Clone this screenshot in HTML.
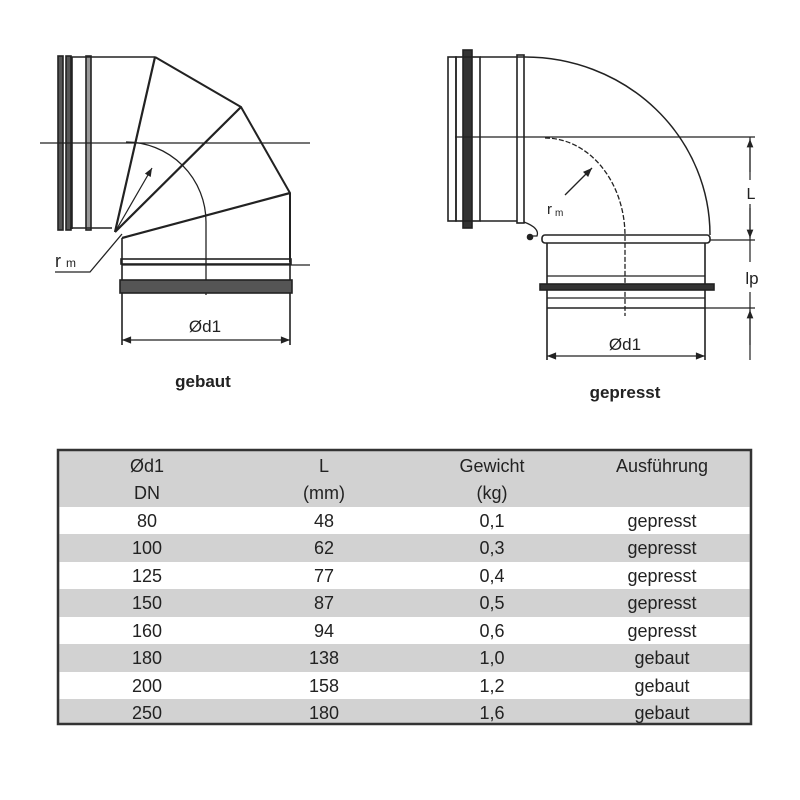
<!DOCTYPE html>
<html><head><meta charset="utf-8"><style>
body{margin:0;background:#fff;width:800px;height:800px;overflow:hidden}
svg{position:absolute;left:0;top:0}
text{font-family:"Liberation Sans",Arial,sans-serif;fill:#222}
</style></head><body>
<svg width="800" height="800" viewBox="0 0 800 800">
<defs>
<marker id="ar" viewBox="0 0 10 10" refX="10" refY="5" markerWidth="9" markerHeight="7" orient="auto-start-reverse"><path d="M0,1 L10,5 L0,9 z" fill="#222"/></marker>
</defs>
<g stroke="#222" stroke-width="1.6" fill="none">
<!-- LEFT gebaut -->
<rect x="58" y="56" width="5" height="174" fill="#555"/>
<rect x="66" y="56" width="5" height="174" fill="#555"/>
<line x1="72" y1="57" x2="72" y2="229"/>
<rect x="86" y="56" width="5" height="174" fill="#999"/>
<line x1="70" y1="57" x2="155" y2="57"/>
<line x1="70" y1="228" x2="112" y2="228"/>
<path d="M155,57 L241,107 L290,193 L290,262" stroke-width="2"/>
<line x1="115" y1="232" x2="155" y2="57" stroke-width="2.2"/>
<line x1="115" y1="232" x2="241" y2="107" stroke-width="2.2"/>
<line x1="122" y1="238" x2="290" y2="193" stroke-width="2.2"/>
<line x1="115" y1="232" x2="152" y2="168" stroke-width="1.2" marker-end="url(#ar)"/>
<line x1="40" y1="143" x2="310" y2="143" stroke-width="1.3"/>
<path d="M126,142 A80,80 0 0 1 206,222 L206,295" stroke-width="1.3"/>
<line x1="122" y1="238" x2="122" y2="345"/>
<line x1="290" y1="262" x2="290" y2="345"/>
<rect x="121" y="259" width="170" height="5" fill="none"/>
<line x1="122" y1="265" x2="310" y2="265" stroke-width="1.3"/>
<rect x="120" y="280" width="172" height="13" fill="#555"/>
<line x1="122" y1="340" x2="290" y2="340" stroke-width="1.3" marker-start="url(#ar)" marker-end="url(#ar)"/>
<path d="M55,272 L90,272 L122,234" stroke-width="1.3"/>
<!-- RIGHT gepresst -->
<rect x="448" y="57" width="8" height="164"/>
<rect x="463" y="50" width="9" height="178" fill="#333"/>
<rect x="456" y="57" width="24" height="164"/>
<rect x="517" y="55" width="7" height="168"/>
<line x1="480" y1="57" x2="525" y2="57"/>
<line x1="480" y1="221" x2="517" y2="221"/>
<path d="M525,57 A185,178 0 0 1 710,235" stroke-width="1.5"/>
<line x1="455" y1="137" x2="755" y2="137" stroke-width="1.3"/>
<path d="M545,138 A80,98 0 0 1 625,236 L625,316" stroke-width="1.3" stroke-dasharray="5,2"/>
<line x1="565" y1="195" x2="592" y2="168" stroke-width="1.3" marker-end="url(#ar)"/>
<path d="M524,222 Q540,228 537,236 L530,236" stroke-width="1.3"/>
<circle cx="530" cy="237" r="2.5" fill="#222"/>
<rect x="542" y="235" width="168" height="8" rx="3"/>
<line x1="547" y1="243" x2="547" y2="360"/>
<line x1="705" y1="243" x2="705" y2="360"/>
<line x1="547" y1="276" x2="705" y2="276" stroke-width="1.2"/>
<rect x="540" y="284" width="174" height="6" fill="#333"/>
<line x1="547" y1="298" x2="705" y2="298" stroke-width="1.2"/>
<line x1="547" y1="308" x2="705" y2="308"/>
<line x1="710" y1="240" x2="755" y2="240" stroke-width="1.3"/>
<line x1="705" y1="308" x2="755" y2="308" stroke-width="1.3"/>
<line x1="750" y1="137" x2="750" y2="360" stroke-width="1.2"/>
<line x1="750" y1="172" x2="750" y2="139" stroke-width="1.2" marker-end="url(#ar)"/>
<line x1="750" y1="208" x2="750" y2="238" stroke-width="1.2" marker-end="url(#ar)"/>
<line x1="750" y1="345" x2="750" y2="310" stroke-width="1.2" marker-end="url(#ar)"/>
<line x1="547" y1="356" x2="705" y2="356" stroke-width="1.3" marker-start="url(#ar)" marker-end="url(#ar)"/>
</g>
<rect x="745" y="180" width="12" height="24" fill="#fff"/>
<rect x="744" y="262" width="18" height="30" fill="#fff"/>
<text x="205" y="332" font-size="17" text-anchor="middle">Ød1</text>
<text x="55" y="267" font-size="18">r</text><text x="66" y="267" font-size="12">m</text>
<text x="203" y="387" font-size="17" font-weight="bold" text-anchor="middle">gebaut</text>
<text x="625" y="350" font-size="17" text-anchor="middle">Ød1</text>
<text x="547" y="214" font-size="15">r</text><text x="555" y="216" font-size="10">m</text>
<text x="751" y="199" font-size="16" text-anchor="middle">L</text>
<text x="752" y="284" font-size="17" text-anchor="middle">lp</text>
<text x="625" y="398" font-size="17" font-weight="bold" text-anchor="middle">gepresst</text>
<!-- TABLE -->
<rect x="58" y="450" width="693" height="274" fill="#d2d2d2" stroke="#333" stroke-width="2.5"/>
<g fill="#fff">
<rect x="59.5" y="507" width="690" height="27"/>
<rect x="59.5" y="562" width="690" height="27"/>
<rect x="59.5" y="617" width="690" height="27"/>
<rect x="59.5" y="672" width="690" height="27"/>
</g>
<g font-size="18" text-anchor="middle">
<text x="147" y="472">Ød1</text><text x="147" y="499">DN</text>
<text x="324" y="472">L</text><text x="324" y="499">(mm)</text>
<text x="492" y="472">Gewicht</text><text x="492" y="499">(kg)</text>
<text x="662" y="472">Ausführung</text>
<text x="147" y="527">80</text><text x="324" y="527">48</text><text x="492" y="527">0,1</text><text x="662" y="527">gepresst</text>
<text x="147" y="554">100</text><text x="324" y="554">62</text><text x="492" y="554">0,3</text><text x="662" y="554">gepresst</text>
<text x="147" y="582">125</text><text x="324" y="582">77</text><text x="492" y="582">0,4</text><text x="662" y="582">gepresst</text>
<text x="147" y="609">150</text><text x="324" y="609">87</text><text x="492" y="609">0,5</text><text x="662" y="609">gepresst</text>
<text x="147" y="637">160</text><text x="324" y="637">94</text><text x="492" y="637">0,6</text><text x="662" y="637">gepresst</text>
<text x="147" y="664">180</text><text x="324" y="664">138</text><text x="492" y="664">1,0</text><text x="662" y="664">gebaut</text>
<text x="147" y="692">200</text><text x="324" y="692">158</text><text x="492" y="692">1,2</text><text x="662" y="692">gebaut</text>
<text x="147" y="719">250</text><text x="324" y="719">180</text><text x="492" y="719">1,6</text><text x="662" y="719">gebaut</text>
</g>
</svg>
</body></html>
